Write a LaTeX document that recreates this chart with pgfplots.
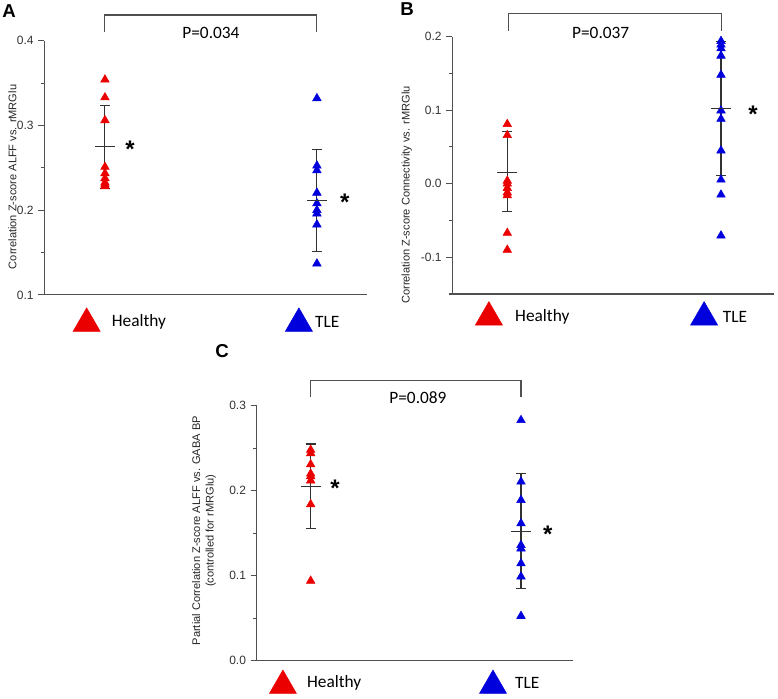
\documentclass[border=0pt]{standalone}
\usepackage{fontspec}
\setmainfont{Liberation Sans}
\newfontfamily\calibri{Carlito}
\usepackage{pgfplots}
\pgfplotsset{compat=1.18}

\definecolor{hred}{RGB}{235,0,0}
\definecolor{tblue}{RGB}{0,0,220}
\definecolor{axgray}{RGB}{80,80,80}
\definecolor{bargray}{RGB}{50,50,50}

\pgfplotsset{
  panel/.style={
    scale only axis,
    anchor=north west,
    axis x line*=bottom,
    axis y line*=left,
    axis line style={axgray, line width=0.8pt},
    xtick=\empty,
    tick align=outside,
    major tick length=4.5pt,
    minor tick length=2.5pt,
    minor y tick num=1,
    every tick/.style={axgray, line width=0.8pt},
    yticklabel style={font=\fontsize{9}{10}\selectfont, text=black!80, /pgf/number format/fixed, /pgf/number format/precision=1, /pgf/number format/fixed zerofill},
    /pgf/number format/assume math mode=true,
    ylabel style={font=\fontsize{8.3}{10}\selectfont, text=black!85, anchor=center, align=center},
    clip=false,
  },
  pts/.style={only marks, mark=triangle*, mark size=3.7pt, forget plot},
  meanbar/.style={only marks, mark=-, mark size=7.5pt, bargray, line width=0.8pt,
    mark options={line width=0.8pt},
    error bars/.cd, y dir=both, y explicit,
    error bar style={bargray, line width=0.8pt},
    error mark options={bargray, mark size=3.75pt, line width=0.8pt, rotate=90}},
  legtri/.style={only marks, mark=triangle*, mark size=11.7pt, forget plot},
}

\newcommand{\legtext}{\fontsize{13}{15}\selectfont\calibri}
\newcommand{\ptext}{\fontsize{13}{15}\selectfont\calibri}
\newcommand{\sigmark}{\node[font=\fontsize{18}{18}\selectfont\bfseries, anchor=base, yshift=-8pt, inner sep=0pt]}

\begin{document}
\begin{tikzpicture}
\path[use as bounding box] (0,0) rectangle (583.5pt,-524.25pt);

% panel letters
\node[font=\fontsize{14}{14}\selectfont\bfseries] at (6.75pt,-8.25pt) {A};
\node[font=\fontsize{14}{14}\selectfont\bfseries] at (305.25pt,-6.75pt) {B};
\node[font=\fontsize{14}{14}\selectfont\bfseries] at (166.5pt,-263.25pt) {C};

% ---------- A ----------
\begin{axis}[panel, at={(33.2pt,-30.5pt)}, width=242pt, height=190.7pt,
  xmin=0.7137, xmax=2.236, ymin=0.1, ymax=0.4, ytick={0.1,0.2,0.3,0.4},
  ylabel={Correlation Z-score ALFF vs. rMRGlu},
  ylabel style={at={(axis description cs:-0.099,0.464)}}]
\addplot[pts, hred] coordinates {(1,0.354)(1,0.333)(1,0.306)(1,0.251)(1,0.2435)(1,0.2376)(1,0.2325)(1,0.23)(1,0.228)};
\addplot[pts, tblue] coordinates {(2,0.332)(2,0.2525)(2,0.247)(2,0.2205)(2,0.208)(2,0.2)(2,0.196)(2,0.183)(2,0.137)};
\addplot[meanbar] table[x=x, y=y, y error plus=ep, y error minus=em] {
x y ep em
1 0.2746 0.0484 0.0486
2 0.2117 0.0603 0.0607
};
\addplot[legtri, hred] coordinates {(0.9137,0.0663)};
\addplot[legtri, tblue] coordinates {(1.915,0.0663)};
\node[anchor=west, inner sep=0pt, font=\legtext] at (axis cs:1.0316,0.0685) {Healthy};
\node[anchor=west, inner sep=0pt, font=\legtext] at (axis cs:1.9906,0.0685) {TLE};
\draw[axgray, line width=0.8pt] (axis cs:1,0.4103) -- (axis cs:1,0.4303) -- (axis cs:2,0.4303) -- (axis cs:2,0.4103);
\node[font=\ptext] at (axis cs:1.5,0.4091) {P=0.034};
\sigmark at (axis cs:1.118,0.2747) {*};
\sigmark at (axis cs:2.132,0.2121) {*};
\end{axis}

% ---------- B ----------
\begin{axis}[panel, at={(339.2pt,-27.5pt)}, width=241.3pt, height=193pt,
  xmin=0.7426, xmax=2.248, ymin=-0.15, ymax=0.2, ytick={-0.1,0,0.1,0.2},
  minor ytick={-0.15,-0.05,0.05,0.15},
  ylabel={Correlation Z-score Connectivity vs. rMRGlu},
  ylabel style={at={(axis description cs:-0.1418,0.385)}}]
\addplot[pts, hred] coordinates {(1,0.081)(1,0.066)(1,0.004)(1,0.0)(1,-0.006)(1,-0.012)(1,-0.016)(1,-0.067)(1,-0.090)};
\addplot[pts, tblue] coordinates {(2,0.194)(2,0.189)(2,0.184)(2,0.174)(2,0.148)(2,0.0995)(2,0.088)(2,0.045)(2,0.0054)(2,-0.015)(2,-0.0706)};
\addplot[meanbar] table[x=x, y=y, y error plus=ep, y error minus=em] {
x y ep em
1 0.0158 0.0552 0.0538
2 0.1018 0.0912 0.0908
};
\addplot[legtri, hred] coordinates {(0.914,-0.1816)};
\addplot[legtri, tblue] coordinates {(1.921,-0.1816)};
\node[anchor=west, inner sep=0pt, font=\legtext] at (axis cs:1.036,-0.1808) {Healthy};
\node[anchor=west, inner sep=0pt, font=\legtext] at (axis cs:2.0075,-0.1808) {TLE};
\draw[axgray, line width=0.8pt] (axis cs:1.005,0.2081) -- (axis cs:1.005,0.2318) -- (axis cs:2.003,0.2318) -- (axis cs:2.003,0.2081);
\node[font=\ptext] at (axis cs:1.437,0.2046) {P=0.037};
\sigmark at (axis cs:2.150,0.0978) {*};
\end{axis}

% ---------- C ----------
\begin{axis}[panel, at={(192.5pt,-304.3pt)}, width=237.2pt, height=191.25pt,
  xmin=0.7432, xmax=2.247, ymin=0, ymax=0.3, ytick={0,0.1,0.2,0.3},
  ylabel={Partial Correlation Z-score ALFF vs. GABA BP\\(controlled for rMRGlu)},
  ylabel style={at={(axis description cs:-0.1666,0.51)}}]
\addplot[pts, hred] coordinates {(1,0.248)(1,0.244)(1,0.231)(1,0.220)(1,0.217)(1,0.212)(1,0.184)(1,0.094)};
\addplot[pts, tblue] coordinates {(2,0.283)(2,0.2106)(2,0.189)(2,0.1616)(2,0.136)(2,0.132)(2,0.1145)(2,0.099)(2,0.0526)};
\addplot[meanbar] table[x=x, y=y, y error plus=ep, y error minus=em] {
x y ep em
1 0.2055 0.0495 0.0495
2 0.1525 0.0675 0.0675
};
\addplot[legtri, hred] coordinates {(0.868,-0.0293)};
\addplot[legtri, tblue] coordinates {(1.867,-0.0293)};
\node[anchor=west, inner sep=0pt, font=\legtext] at (axis cs:0.982,-0.0266) {Healthy};
\node[anchor=west, inner sep=0pt, font=\legtext] at (axis cs:1.971,-0.0266) {TLE};
\draw[axgray, line width=0.8pt] (axis cs:1,0.3106) -- (axis cs:1,0.3302) -- (axis cs:2,0.3302) -- (axis cs:2,0.3106);
\node[font=\ptext] at (axis cs:1.51,0.309) {P=0.089};
\sigmark at (axis cs:1.1155,0.2055) {*};
\sigmark at (axis cs:2.127,0.1518) {*};
\end{axis}
\end{tikzpicture}
\end{document}
